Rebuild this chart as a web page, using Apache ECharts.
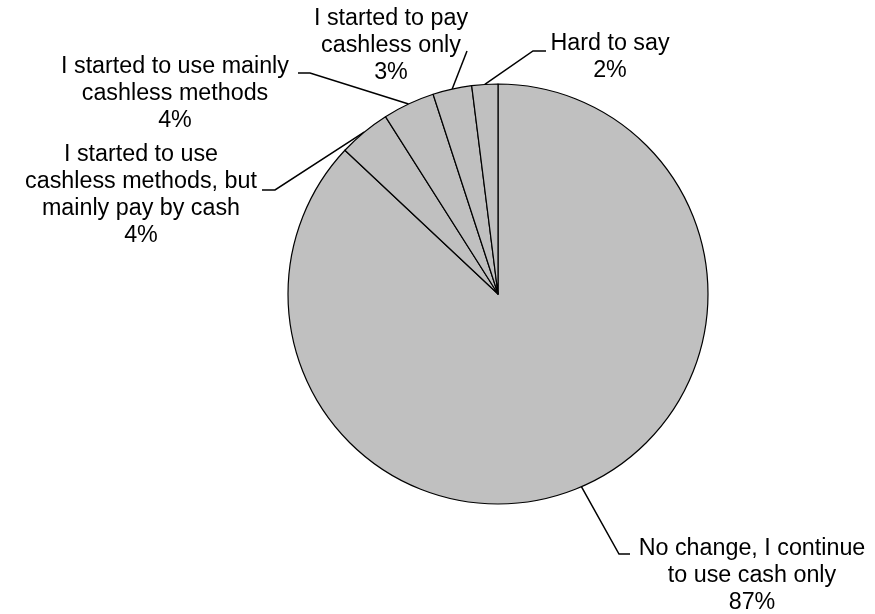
<!DOCTYPE html>
<html>
<head>
<meta charset="utf-8">
<script src="https://cdn.jsdelivr.net/npm/echarts@6/dist/echarts.min.js"></script>
<style>
  html, body { margin: 0; padding: 0; background: #ffffff; }
  #chart { width: 875px; height: 614px; }
</style>
</head>
<body>
<div id="chart"></div>
<script>
// Survey answers, in clockwise order starting at 12 o'clock
const categories = [
  'No change, I continue\nto use cash only',
  'I started to use\ncashless methods, but\nmainly pay by cash',
  'I started to use mainly\ncashless methods',
  'I started to pay\ncashless only',
  'Hard to say'
];
const shares = [87, 4, 4, 3, 2];

// Pie geometry
const CX = 498, CY = 294, R = 210;

// Centre of each label block, and the bend / end points of its leader line
const labelAnchors = [[752, 576], [141, 195.5], [175, 93.5], [391, 45.5], [610, 57.5]];
const leaderBends = [
  [[619, 554], [630, 554]],
  [[275, 190], [262, 190]],
  [[310, 73], [298, 73]],
  [[467, 51]],
  [[533, 51], [546, 51]]
];

const total = shares.reduce((a, b) => a + b, 0);

// Point on the rim at the middle of slice i (clockwise from the top)
function rimPoint(i) {
  let before = 0;
  for (let k = 0; k < i; k++) before += shares[k];
  const theta = (before + shares[i] / 2) / total * 2 * Math.PI;
  return [CX + R * Math.sin(theta), CY - R * Math.cos(theta)];
}

const chart = echarts.init(document.getElementById('chart'), null, { renderer: 'canvas' });

chart.setOption({
  backgroundColor: '#ffffff',
  animation: false,
  series: [{
    type: 'pie',
    center: [CX, CY],
    radius: R,
    startAngle: 90,
    clockwise: true,
    avoidLabelOverlap: false,
    itemStyle: { color: '#c0c0c0', borderColor: '#000000', borderWidth: 1.2 },
    emphasis: { disabled: true },
    label: {
      show: true,
      position: 'outside',
      color: '#000000',
      fontFamily: '"Liberation Sans", Arial, sans-serif',
      fontSize: 23.3,
      lineHeight: 27,
      align: 'center',
      formatter: p => p.name + '\n' + p.value + '%'
    },
    labelLine: {
      show: true,
      length: 10,
      length2: 10,
      lineStyle: { color: '#000000', width: 1.5 }
    },
    labelLayout: params => {
      const i = params.dataIndex;
      return {
        x: labelAnchors[i][0],
        y: labelAnchors[i][1],
        align: 'center',
        verticalAlign: 'middle',
        labelLinePoints: [rimPoint(i)].concat(leaderBends[i])
      };
    },
    data: categories.map((name, i) => ({ name, value: shares[i] }))
  }]
});
</script>
</body>
</html>
